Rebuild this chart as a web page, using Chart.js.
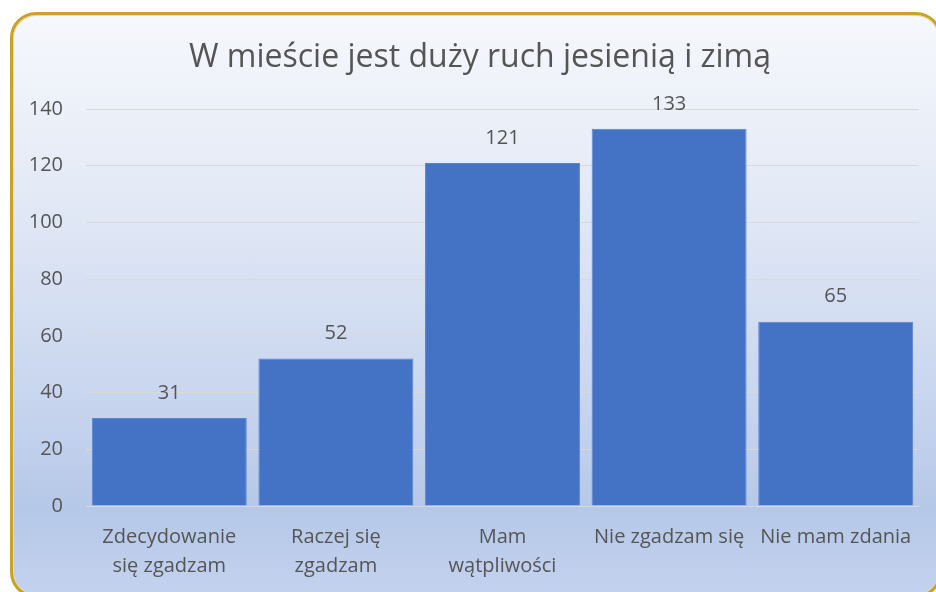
<!DOCTYPE html>
<html>
<head>
<meta charset="utf-8">
<script src="https://cdn.jsdelivr.net/npm/chart.js@4.4.1/dist/chart.umd.min.js"></script>
<style>
  html, body { margin: 0; padding: 0; width: 936px; height: 592px; overflow: hidden; background: #ffffff; }
  #frame {
    position: absolute; left: 10px; top: 12px; width: 932px; height: 586px;
    box-sizing: border-box;
    border: 3px solid #c9a227;
    border-radius: 26px;
    box-shadow: inset 0 0 0 1px #ead9a0;
    background: linear-gradient(to bottom, #f6f8fc 0%, #e4eaf6 30%, #c9d6ef 65%, #b6c8e8 85%, #c3d2ee 100%);
  }
  #c { position: absolute; left: 0; top: 0; }
</style>
</head>
<body>
<div id="frame"></div>
<canvas id="c" width="936" height="592"></canvas>
<script>
const categories = [
  ["Zdecydowanie", "się zgadzam"],
  ["Raczej się", "zgadzam"],
  ["Mam", "wątpliwości"],
  "Nie zgadzam się",
  "Nie mam zdania"
];
const values = [31, 52, 121, 133, 65];
const yTicks = [0, 20, 40, 60, 80, 100, 120, 140];
const titleText = "W mieście jest duży ruch jesienią i zimą";

const textColor = "#555555";
const fontFamily = "'Open Sans', 'Noto Sans', sans-serif";

const valueLabels = {
  id: "valueLabels",
  afterDatasetsDraw(chart) {
    const ctx = chart.ctx;
    const meta = chart.getDatasetMeta(0);
    ctx.save();
    ctx.font = "20px " + fontFamily;
    ctx.fillStyle = textColor;
    ctx.textAlign = "center";
    ctx.textBaseline = "middle";
    meta.data.forEach((el, i) => {
      ctx.fillText(String(values[i]), el.x, el.y - 25);
    });
    ctx.restore();
  }
};

const centeredTitle = {
  id: "centeredTitle",
  afterDraw(chart) {
    const ctx = chart.ctx;
    ctx.save();
    ctx.font = "32px " + fontFamily;
    ctx.fillStyle = textColor;
    ctx.textAlign = "center";
    ctx.textBaseline = "middle";
    ctx.fillText(titleText, 480, 58);
    ctx.restore();
  }
};

new Chart(document.getElementById("c"), {
  type: "bar",
  data: {
    labels: categories,
    datasets: [{
      data: values,
      backgroundColor: "#4472c4",
      borderColor: "#5a84cf",
      borderWidth: 1,
      categoryPercentage: 1.0,
      barPercentage: 0.93
    }]
  },
  options: {
    responsive: false,
    animation: false,
    devicePixelRatio: 1,
    layout: { padding: { left: 20, right: 17, top: 109, bottom: 0 } },
    plugins: {
      legend: { display: false },
      tooltip: { enabled: false },
      title: { display: false }
    },
    scales: {
      x: {
        grid: { display: false, drawTicks: false },
        border: { display: false },
        ticks: {
          color: textColor,
          font: { family: fontFamily, size: 20, lineHeight: 1.45 },
          padding: 17,
          maxRotation: 0,
          autoSkip: false
        },
        afterFit(s) { s.height = 86; }
      },
      y: {
        min: 0,
        max: 140,
        afterBuildTicks(s) { s.ticks = yTicks.map(v => ({ value: v })); },
        grid: { color: "#d9d9d9", lineWidth: 1, drawTicks: false },
        border: { display: false },
        ticks: {
          color: textColor,
          font: { family: fontFamily, size: 20 },
          padding: 23
        },
        afterFit(s) { s.width = 66; }
      }
    }
  },
  plugins: [valueLabels, centeredTitle]
});
</script>
</body>
</html>
